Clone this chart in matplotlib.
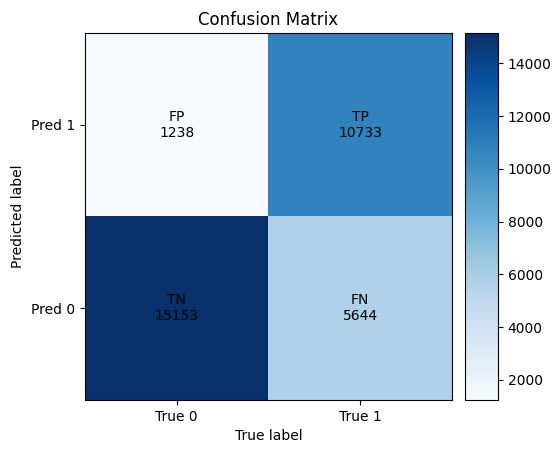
import matplotlib
matplotlib.use("Agg")
import matplotlib.pyplot as plt
import numpy as np

x_labels = ["True 0", "True 1"]
y_labels = ["Pred 1", "Pred 0"]
cell_names = [["FP", "TP"], ["TN", "FN"]]
values = np.array([[1238, 10733], [15153, 5644]])

fig = plt.figure(figsize=(5.6, 4.55), dpi=100)
ax = fig.add_axes([85/560, 55/455, 367/560, 367/455])
cax = fig.add_axes([465/560, 55/455, 33/560, 367/455])
im = ax.imshow(values, cmap="Blues", interpolation="nearest", aspect="auto")
fig.colorbar(im, cax=cax)
ax.set_title("Confusion Matrix")
ax.set_xticks(range(len(x_labels)))
ax.set_xticklabels(x_labels)
ax.set_yticks(range(len(y_labels)))
ax.set_yticklabels(y_labels)
ax.set_xlabel("True label")
ax.set_ylabel("Predicted label")
for i in range(values.shape[0]):
    for j in range(values.shape[1]):
        ax.text(j, i, f"{cell_names[i][j]}\n{values[i, j]}", ha="center", va="center", color="black")
fig.savefig("out.png")
